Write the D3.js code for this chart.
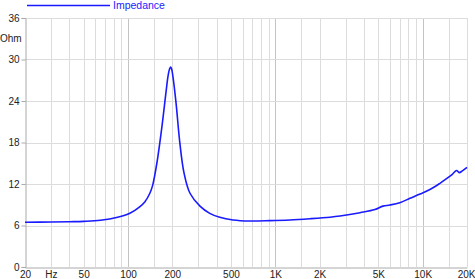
<!DOCTYPE html>
<html>
<head>
<meta charset="utf-8">
<script src="https://cdn.jsdelivr.net/npm/d3@7"></script>
<style>
  html, body { margin: 0; padding: 0; background: #fff; }
  svg { display: block; font-family: "Liberation Sans", Arial, sans-serif; }
</style>
</head>
<body>
<svg id="chart"></svg>
<script>
// Impedance curve
const freqs = [20, 30, 40, 50, 65, 85, 103, 120, 130, 141, 147, 157, 170, 181, 187, 192, 195, 198, 202, 212, 225, 240, 263, 308, 359, 420, 516, 671, 917, 1256, 1720, 2350, 2750, 3760, 4740, 5380, 6000, 7000, 8200, 9600, 11200, 13100, 14600, 15900, 17000, 17700, 18600, 20000];
const ohms  = [6.46, 6.5, 6.55, 6.6, 6.75, 7.18, 7.76, 8.7, 9.4, 10.7, 11.8, 15.0, 20.3, 25.2, 27.6, 28.7, 28.9, 28.6, 27.5, 23.7, 17.9, 13.6, 10.7, 8.8, 7.76, 7.18, 6.8, 6.65, 6.7, 6.8, 6.98, 7.2, 7.37, 7.85, 8.3, 8.8, 8.96, 9.3, 9.93, 10.55, 11.2, 12.1, 12.8, 13.4, 13.95, 13.65, 13.9, 14.4];

const yTicks = [0, 6, 12, 18, 24, 30, 36];
const xTickVals = [20, 30, 50, 100, 200, 500, 1000, 2000, 5000, 10000, 20000];
const xTickLabels = ["20", "Hz", "50", "100", "200", "500", "1K", "2K", "5K", "10K", "20K"];
const xGrid = [30, 40, 50, 60, 70, 80, 90, 100, 150, 200, 300, 400, 500, 600, 700, 800, 900, 1000, 1500, 2000, 3000, 4000, 5000, 6000, 7000, 8000, 9000, 10000, 15000, 20000];
const seriesName = "Impedance";

const width = 475, height = 279;
const margin = { top: 18, right: 8, bottom: 12, left: 25 };

const svg = d3.select("#chart").attr("width", width).attr("height", height);

const x = d3.scaleLog().domain([20, 20000]).range([margin.left, width - margin.right]);
const y = d3.scaleLinear().domain([0, 36]).range([height - margin.bottom, margin.top]);

// grid
svg.append("g").selectAll("line")
  .data(xGrid)
  .join("line")
  .attr("x1", d => Math.round(x(d)) + 0.5)
  .attr("x2", d => Math.round(x(d)) + 0.5)
  .attr("y1", y(36))
  .attr("y2", y(0))
  .attr("stroke", d => [100, 1000, 10000].includes(d) ? "#c4c4c4" : "#dcdcdc")
  .attr("stroke-width", 1);

svg.append("g").selectAll("line")
  .data(yTicks.filter(d => d > 0))
  .join("line")
  .attr("x1", x(20))
  .attr("x2", x(20000))
  .attr("y1", d => Math.round(y(d)) + 0.5)
  .attr("y2", d => Math.round(y(d)) + 0.5)
  .attr("stroke", "#dcdcdc");

// axes
const yAxis = svg.append("g")
  .attr("transform", `translate(${Math.round(x(20)) + 0.5},0)`)
  .call(d3.axisLeft(y).tickValues(yTicks).tickSize(4).tickPadding(2));
yAxis.select(".domain").attr("stroke", "#aaa");
yAxis.selectAll(".tick line").attr("stroke", "#aaa");
yAxis.selectAll(".tick text").attr("font-size", 10).attr("fill", "#222");

const xAxis = svg.append("g")
  .attr("transform", `translate(0,${Math.round(y(0)) + 0.5})`)
  .call(d3.axisBottom(x).tickValues(xTickVals)
    .tickFormat((d, i) => xTickLabels[i]).tickSize(0).tickPadding(3));
xAxis.select(".domain").attr("stroke", "#aaa");
xAxis.selectAll(".tick text").attr("font-size", 10).attr("fill", "#222");
// keep the last label inside the frame
xAxis.selectAll(".tick text").filter(d => d === 20000).attr("text-anchor", "end").attr("dx", 8);

svg.append("text")
  .attr("x", 0)
  .attr("y", y(33) + 3.5)
  .attr("font-size", 10)
  .attr("fill", "#222")
  .text("Ohm");

// curve
const line = d3.line()
  .x((d, i) => x(freqs[i]))
  .y(d => y(d))
  .curve(d3.curveCatmullRom.alpha(0.5));

svg.append("path")
  .datum(ohms)
  .attr("d", line)
  .attr("fill", "none")
  .attr("stroke", "#1a1aff")
  .attr("stroke-width", 1.6);

// legend
svg.append("line")
  .attr("x1", 27).attr("x2", 110)
  .attr("y1", 5.5).attr("y2", 5.5)
  .attr("stroke", "#1a1aff")
  .attr("stroke-width", 1.5);

svg.append("text")
  .attr("x", 113)
  .attr("y", 9)
  .attr("font-size", 10.5)
  .attr("fill", "#2222ff")
  .text(seriesName);
</script>
</body>
</html>
